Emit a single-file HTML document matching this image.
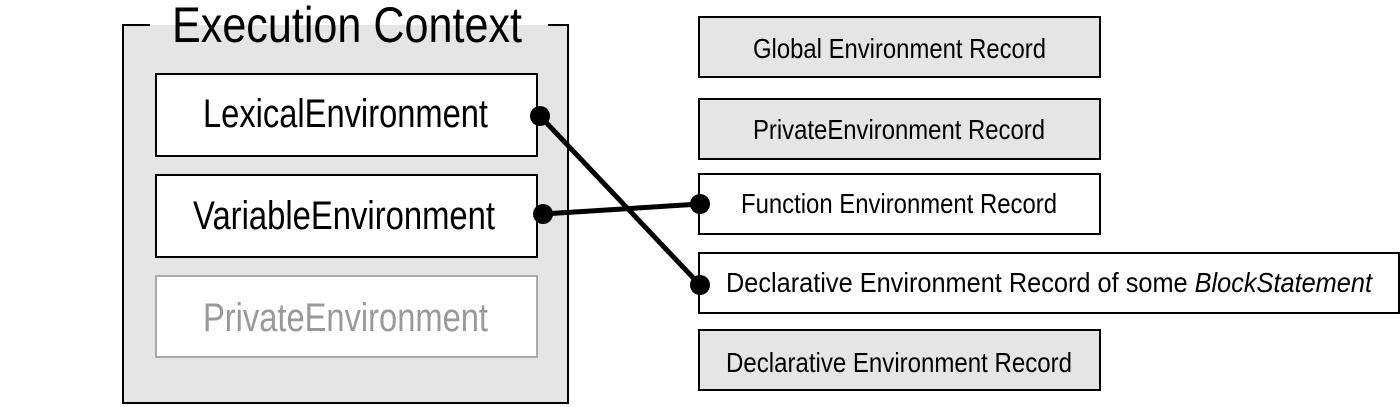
<!DOCTYPE html>
<html><head><meta charset="utf-8"><style>html,body{margin:0;padding:0;background:#fff;width:1400px;height:407px;overflow:hidden}</style></head>
<body>
<svg width="1400" height="407" viewBox="0 0 1400 407" xmlns="http://www.w3.org/2000/svg" font-family="'Liberation Sans Narrow','Liberation Sans',sans-serif">
<rect x="123" y="25" width="445" height="378" fill="#e5e5e5" stroke="none"/>
<path d="M150 25 H123 V403 H568 V25 H548" fill="none" stroke="#000" stroke-width="2"/>
<rect x="150" y="0" width="398" height="24" fill="#fff"/>
<text x="172" y="42" font-size="50" textLength="350" lengthAdjust="spacingAndGlyphs">Execution Context</text>
<rect x="156" y="74" width="381" height="82" fill="#fff" stroke="#000" stroke-width="2"/>
<text x="203" y="127" font-size="40" textLength="285" lengthAdjust="spacingAndGlyphs">LexicalEnvironment</text>
<rect x="156" y="175" width="381" height="82" fill="#fff" stroke="#000" stroke-width="2"/>
<text x="193" y="229" font-size="40" textLength="302" lengthAdjust="spacingAndGlyphs">VariableEnvironment</text>
<rect x="156" y="276" width="381" height="81" fill="#fff" stroke="#aaa" stroke-width="2"/>
<text x="203" y="331" font-size="40" fill="#999" textLength="285" lengthAdjust="spacingAndGlyphs">PrivateEnvironment</text>

<g stroke="#000" stroke-width="2">
<rect x="699" y="17" width="401" height="60" fill="#e5e5e5"/>
<rect x="699" y="99" width="401" height="60" fill="#e5e5e5"/>
<rect x="699" y="174" width="401" height="60" fill="#fff"/>
<rect x="699" y="253" width="700" height="60" fill="#fff"/>
<rect x="699" y="330" width="401" height="60" fill="#e5e5e5"/>
</g>
<g font-size="28">
<text x="753" y="58" textLength="293" lengthAdjust="spacingAndGlyphs">Global Environment Record</text>
<text x="753" y="139" textLength="292" lengthAdjust="spacingAndGlyphs">PrivateEnvironment Record</text>
<text x="741" y="213" textLength="316" lengthAdjust="spacingAndGlyphs">Function Environment Record</text>
<text x="726" y="292" textLength="646" lengthAdjust="spacingAndGlyphs">Declarative Environment Record of some <tspan font-style="italic">BlockStatement</tspan></text>
<text x="726" y="372" textLength="346" lengthAdjust="spacingAndGlyphs">Declarative Environment Record</text>
</g>
<g stroke="#000" stroke-width="5" stroke-linecap="round">
<line x1="540" y1="116" x2="700" y2="285"/>
<line x1="543" y1="214" x2="700" y2="204"/>
</g>
<g fill="#000">
<circle cx="540" cy="116" r="10"/>
<circle cx="543" cy="214" r="10"/>
<circle cx="700" cy="204" r="10"/>
<circle cx="700" cy="285" r="10"/>
</g>
</svg>
</body></html>
